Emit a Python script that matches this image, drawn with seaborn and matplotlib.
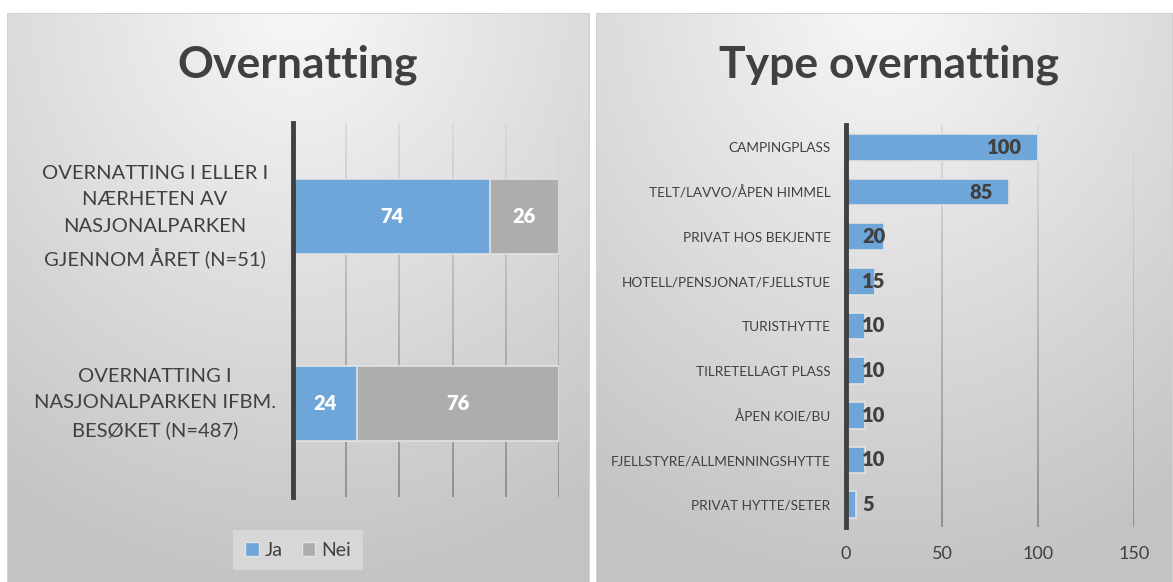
import numpy as np
import pandas as pd
import matplotlib
matplotlib.use('Agg')
import matplotlib.pyplot as plt
import matplotlib.patches as mpatches
from matplotlib.collections import LineCollection
import seaborn as sns

# data
left_cats = ['OVERNATTING I ELLER I\nNÆRHETEN AV\nNASJONALPARKEN\nGJENNOM ÅRET (N=51)',
             'OVERNATTING I\nNASJONALPARKEN IFBM.\nBESØKET (N=487)']
ja = [74, 24]
nei = [26, 76]

right_cats = ['CAMPINGPLASS', 'TELT/LAVVO/ÅPEN HIMMEL', 'PRIVAT HOS BEKJENTE',
              'HOTELL/PENSJONAT/FJELLSTUE', 'TURISTHYTTE', 'TILRETELLAGT PLASS',
              'ÅPEN KOIE/BU', 'FJELLSTYRE/ALLMENNINGSHYTTE', 'PRIVAT HYTTE/SETER']
right_vals = [100, 85, 20, 15, 10, 10, 10, 10, 5]

BLUE = '#6fa6d9'
GRAY = '#adadad'
TXT = '#404040'

sns.set_theme(style='white')
plt.rcParams['font.family'] = ['Lato', 'DejaVu Sans']

W, H = 1173, 582
fig = plt.figure(figsize=(W / 100, H / 100), dpi=100)

# panel backgrounds with a soft gradient
bg = np.ones((H, W, 3))
yy, xx = np.mgrid[0:H, 0:W]
for x0, x1 in [(7, 589), (596, 1173)]:
    cx = (x0 + x1) / 2
    t = np.sqrt(((xx - cx) / (x1 - x0)) ** 2 * 1.2 + (yy / H) ** 2)
    val = np.clip(248 - 52 * t, 195, 250) / 255
    m = (xx >= x0) & (xx < x1) & (yy >= 13)
    bg[m] = val[m][:, None]
    bg[13, x0:x1] = 0.82
    bg[13:, x0] = 0.82
    bg[13:, min(x1, W - 1)] = 0.82
axbg = fig.add_axes([0, 0, 1, 1], zorder=-5)
axbg.imshow(bg, aspect='auto', interpolation='nearest')
axbg.axis('off')


def fading_grid(ax, ticks):
    # vertical gridlines that darken towards the bottom
    y0, y1 = ax.get_ylim()
    n = 30
    ys = np.linspace(y0, y1, n + 1)
    segs, cols = [], []
    for x in ticks:
        for k in range(n):
            segs.append([(x, ys[k]), (x, ys[k + 1])])
            f = k / (n - 1)
            g = 0.55 + 0.30 * f
            cols.append((g, g, g))
    ax.add_collection(LineCollection(segs, colors=cols, linewidths=1.3, zorder=0.5))


# ---- left chart: stacked bars
dfl = pd.DataFrame({'cat': left_cats, 'Ja': ja, 'Nei': nei})
dfl['total'] = dfl['Ja'] + dfl['Nei']

ax1 = fig.add_axes([293 / W, 1 - 497 / H, 266 / W, 374 / H])
ax1.patch.set_alpha(0)
sns.barplot(dfl, x='total', y='cat', color=GRAY, saturation=1, width=0.4,
            edgecolor='#e2e2e2', linewidth=1.2, ax=ax1)
sns.barplot(dfl, x='Ja', y='cat', color=BLUE, saturation=1, width=0.4,
            edgecolor='#e2e2e2', linewidth=1.2, ax=ax1)
ax1.set_xlim(0, 100)
ax1.set_xticks(np.arange(0, 101, 20))
fading_grid(ax1, np.arange(20, 101, 20))
ax1.set_xticklabels([])
ax1.tick_params(length=0)
for s in ['top', 'right', 'bottom']:
    ax1.spines[s].set_visible(False)
ax1.spines['left'].set_color(TXT)
ax1.spines['left'].set_linewidth(3.5)
ax1.set_xlabel('')
ax1.set_ylabel('')
ax1.set_yticklabels([])
for i, c in enumerate(left_cats):
    ax1.annotate(c, xy=(0, i), xytext=(-138, 0), textcoords='offset pixels',
                 ha='center', va='center', fontsize=14.5, color=TXT,
                 linespacing=1.68)
for i in range(len(left_cats)):
    ax1.text(ja[i] / 2, i, str(ja[i]), ha='center', va='center', color='white',
             fontsize=14.5, fontweight='heavy')
    ax1.text(ja[i] + nei[i] / 2, i, str(nei[i]), ha='center', va='center',
             color='white', fontsize=14.5, fontweight='heavy')
fig.text(298 / W, 1 - 65 / H, 'Overnatting', ha='center', va='center',
         fontsize=32, fontweight='bold', color=TXT)

handles = [mpatches.Patch(facecolor=BLUE, edgecolor='#e2e2e2', label='Ja'),
           mpatches.Patch(facecolor=GRAY, edgecolor='#e2e2e2', label='Nei')]
leg = fig.legend(handles=handles, loc='center', bbox_to_anchor=(298 / W, 1 - 550 / H),
                 ncol=2, frameon=True, fontsize=14, handlelength=0.7, handleheight=0.7,
                 handletextpad=0.3, columnspacing=1.0, borderpad=0.6, fancybox=False)
leg.get_frame().set_facecolor('#dcdcdc')
leg.get_frame().set_edgecolor('none')
for t in leg.get_texts():
    t.set_color(TXT)

# ---- right chart
dfr = pd.DataFrame({'cat': right_cats, 'val': right_vals})
ax2 = fig.add_axes([846 / W, 1 - 527 / H, 288 / W, 402 / H])
ax2.patch.set_alpha(0)
sns.barplot(dfr, x='val', y='cat', color=BLUE, saturation=1, width=0.6,
            edgecolor='#e2e2e2', linewidth=1.2, ax=ax2)
ax2.set_xlim(0, 150)
ax2.set_xticks([0, 50, 100, 150])
fading_grid(ax2, [50, 100, 150])
ax2.tick_params(length=0, labelsize=13, labelcolor=TXT)
ax2.tick_params(axis='x', pad=14)
ax2.tick_params(axis='y', pad=11, labelsize=9.8)
for s in ['top', 'right', 'bottom']:
    ax2.spines[s].set_visible(False)
ax2.spines['left'].set_color(TXT)
ax2.spines['left'].set_linewidth(3.5)
ax2.set_xlabel('')
ax2.set_ylabel('')
for i, v in enumerate(right_vals):
    if v >= 50:
        ax2.annotate(str(v), xy=(v, i), xytext=(-16, 0), textcoords='offset pixels',
                     ha='right', va='center', fontsize=14.5, fontweight='heavy', color=TXT)
    else:
        ax2.annotate(str(v), xy=(0, i), xytext=(16, 0), textcoords='offset pixels',
                     ha='left', va='center', fontsize=14.5, fontweight='heavy', color=TXT)
fig.text(889 / W, 1 - 65 / H, 'Type overnatting', ha='center', va='center',
         fontsize=32, fontweight='bold', color=TXT)

fig.savefig('out.png', dpi=100)
